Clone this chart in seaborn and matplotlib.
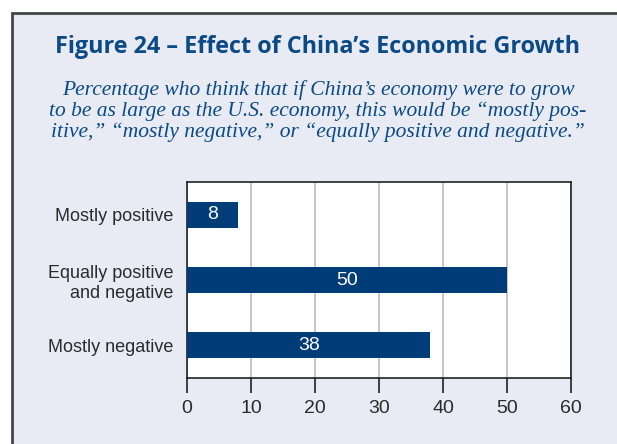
import pandas as pd
import matplotlib.pyplot as plt
import seaborn as sns
from matplotlib.patches import Rectangle

# data
categories = ["Mostly positive", "Equally positive\nand negative", "Mostly negative"]
values = [8, 50, 38]
x_ticks = [0, 10, 20, 30, 40, 50, 60]

title = "Figure 24 \u2013 Effect of China\u2019s Economic Growth"
subtitle = ("Percentage who think that if China\u2019s economy were to grow\n"
            "to be as large as the U.S. economy, this would be \u201cmostly pos-\n"
            "itive,\u201d \u201cmostly negative,\u201d or \u201cequally positive and negative.\u201d")

bar_color = "#003d78"
bg_color = "#e8ebf4"
title_color = "#0b4a86"
text_color = "#2b2b2b"

df = pd.DataFrame({"category": categories, "value": values})

sns.set_theme(style="white")
plt.rcParams["font.family"] = ["Liberation Sans Narrow", "Liberation Sans", "DejaVu Sans"]

fig = plt.figure(figsize=(6.17, 4.44), dpi=100)
fig.patch.set_facecolor("white")

# light panel with dark frame on top and left
W, H = 617, 444
frame = Rectangle((12 / W, -0.1), 1.2, (H - 13) / H + 0.1, transform=fig.transFigure,
                  facecolor=bg_color, edgecolor="#444444", linewidth=2, zorder=-10)
fig.patches.append(frame)

ax = fig.add_axes([187 / W, 1 - 378 / H, (571 - 187) / W, (378 - 182) / H])
ax.set_facecolor("white")

sns.barplot(data=df, x="value", y="category", color=bar_color, width=0.4,
            saturation=1, linewidth=0, ax=ax, zorder=3)

for i, v in enumerate(values):
    ax.text(v / 2, i, str(v), ha="center", va="center", color="white",
            fontsize=14, zorder=4)

ax.set_xlim(0, 60)
ax.set_ylim(2.5, -0.5)
ax.set_xticks(x_ticks)
ax.set_xlabel("")
ax.set_ylabel("")
ax.grid(axis="x", color="#bdbdbd", linewidth=1.2, zorder=0)
ax.grid(axis="y", visible=False)
for s in ax.spines.values():
    s.set_color("#222222")
    s.set_linewidth(1.2)
ax.tick_params(axis="x", bottom=True, direction="out", length=11, width=1.2,
               color="#222222", labelsize=14, labelcolor=text_color, pad=5)
ax.tick_params(axis="y", left=False, length=0, labelsize=13, labelcolor=text_color, pad=10)
for lab in ax.get_yticklabels():
    lab.set_ha("right")
    lab.set_multialignment("right")

fig.text(318 / W, 1 - 47 / H, title, ha="center", va="center", fontsize=16.8,
         fontweight="bold", color=title_color, family=["Open Sans", "DejaVu Sans"])
fig.text(318 / W, 1 - 111 / H, subtitle, ha="center", va="center", fontsize=15.5,
         style="italic", color=title_color, linespacing=1.12,
         family=["Liberation Serif", "DejaVu Serif"])

fig.savefig("out.png", dpi=100, facecolor=fig.get_facecolor())
